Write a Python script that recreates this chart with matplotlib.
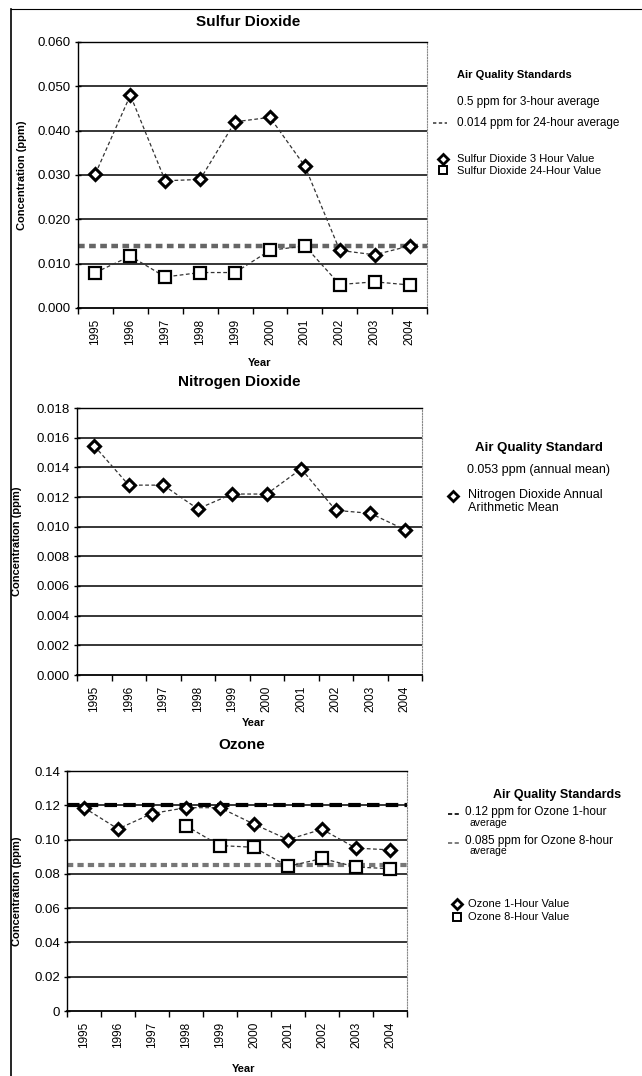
import matplotlib
matplotlib.use("Agg")
import matplotlib.pyplot as plt
import numpy as np
from matplotlib.lines import Line2D
from matplotlib.ticker import FixedLocator

plt.rcParams["font.family"] = ["Liberation Sans", "DejaVu Sans"]

W, H = 642, 1076

years = ["1995", "1996", "1997", "1998", "1999", "2000", "2001", "2002", "2003", "2004"]

so2_3hr = [0.0303, 0.048, 0.0287, 0.029, 0.042, 0.043, 0.032, 0.013, 0.012, 0.014]
so2_24hr = [0.008, 0.0117, 0.007, 0.008, 0.008, 0.013, 0.014, 0.0053, 0.0059, 0.0052]
so2_std_24hr = 0.014
so2_ticks = [0.000, 0.010, 0.020, 0.030, 0.040, 0.050, 0.060]

no2_annual = [0.01545, 0.0128, 0.0128, 0.0112, 0.0122, 0.0122, 0.0139, 0.0111, 0.0109, 0.0098]
no2_ticks = [0.000, 0.002, 0.004, 0.006, 0.008, 0.010, 0.012, 0.014, 0.016, 0.018]

o3_1hr = [0.1186, 0.1062, 0.1152, 0.1186, 0.1186, 0.109, 0.100, 0.106, 0.095, 0.094]
o3_8hr = [np.nan, np.nan, np.nan, 0.108, 0.0965, 0.0955, 0.0843, 0.089, 0.084, 0.083]
o3_std_1hr = 0.12
o3_std_8hr = 0.085
o3_ticks = [0, 0.02, 0.04, 0.06, 0.08, 0.10, 0.12, 0.14]
o3_ticklabels = ["0", "0.02", "0.04", "0.06", "0.08", "0.10", "0.12", "0.14"]


def fx(px):
    return px / W


def fy(py):
    return 1 - py / H


def make_axes(fig, left, top, right, bottom):
    return fig.add_axes([fx(left), fy(bottom), (right - left) / W, (bottom - top) / H])


def style_axes(ax, ticks, labels):
    x = np.arange(len(years))
    ax.set_xlim(-0.5, len(years) - 0.5)
    ax.set_ylim(ticks[0], ticks[-1])
    ax.set_yticks(ticks)
    ax.set_yticklabels(labels, fontsize=9.5)
    ax.set_xticks(x)
    ax.set_xticklabels(years, rotation=90, fontsize=8.5)
    ax.xaxis.set_minor_locator(FixedLocator(np.arange(-0.5, len(years), 1.0)))
    ax.tick_params(axis="x", which="major", length=0, pad=8)
    ax.tick_params(axis="x", which="minor", length=4, direction="out", width=1)
    ax.tick_params(axis="y", length=4, direction="inout", width=1, pad=3)
    for t in ticks[1:]:
        ax.axhline(t, color="black", lw=1.1, zorder=1)
    ax.spines["left"].set_linewidth(1.0)
    ax.spines["bottom"].set_linewidth(1.3)
    ax.spines["top"].set_linewidth(1.0)
    ax.spines["right"].set_color("#888888")
    ax.spines["right"].set_linestyle((0, (1, 1.5)))
    ax.spines["right"].set_linewidth(0.8)


def data_line(ax, vals, marker):
    x = np.arange(len(years))
    if marker == "D":
        ax.plot(x, vals, linestyle=(0, (3, 2)), color="#333333", lw=0.9,
                marker="D", markersize=6, markerfacecolor="white",
                markeredgecolor="black", markeredgewidth=2.2, zorder=4)
    else:
        ax.plot(x, vals, linestyle=(0, (3, 2)), color="#333333", lw=0.9,
                marker="s", markersize=8, markerfacecolor="white",
                markeredgecolor="black", markeredgewidth=1.6, zorder=4)


def legend_line(fig, x0, x1, y, color, lw, dashes):
    fig.add_artist(Line2D([fx(x0), fx(x1)], [fy(y), fy(y)], color=color, lw=lw,
                          linestyle=(0, dashes), transform=fig.transFigure))


def legend_marker(fig, x, y, marker):
    if marker == "D":
        fig.add_artist(Line2D([fx(x)], [fy(y)], marker="D", markersize=5,
                              markerfacecolor="white", markeredgecolor="black",
                              markeredgewidth=2, linestyle="none",
                              transform=fig.transFigure))
    else:
        fig.add_artist(Line2D([fx(x)], [fy(y)], marker="s", markersize=6,
                              markerfacecolor="white", markeredgecolor="black",
                              markeredgewidth=1.4, linestyle="none",
                              transform=fig.transFigure))


fig = plt.figure(figsize=(W / 100, H / 100), dpi=100)

# page frame
fig.add_artist(Line2D([fx(11), fx(11)], [fy(9), fy(1076)], color="black", lw=1.2,
                      transform=fig.transFigure))
fig.add_artist(Line2D([fx(11), fx(642)], [fy(9), fy(9)], color="black", lw=0.8,
                      transform=fig.transFigure))

# ---- Sulfur Dioxide ----
ax1 = make_axes(fig, 78, 42, 427, 308)
style_axes(ax1, so2_ticks, [f"{t:.3f}" for t in so2_ticks])
ax1.axhline(so2_std_24hr, color="#666666", lw=3.2, linestyle=(0, (1.5, 1)), zorder=2)
data_line(ax1, so2_3hr, "D")
data_line(ax1, so2_24hr, "s")
fig.text(fx(248), fy(22), "Sulfur Dioxide", ha="center", va="center", fontsize=11, fontweight="bold")
fig.text(fx(260), fy(363), "Year", ha="center", va="center", fontsize=8, fontweight="bold")
fig.text(fx(22), fy(175), "Concentration (ppm)", rotation=90, ha="center", va="center",
         fontsize=8, fontweight="bold")
fig.text(fx(457), fy(75), "Air Quality Standards", ha="left", va="center", fontsize=8, fontweight="bold")
fig.text(fx(457), fy(102), "0.5 ppm for 3-hour average", ha="left", va="center", fontsize=8.5)
legend_line(fig, 433, 447, 123, "#444444", 1.2, (2, 1.5))
fig.text(fx(457), fy(123), "0.014 ppm for 24-hour average", ha="left", va="center", fontsize=8.5)
legend_marker(fig, 443, 159, "D")
fig.text(fx(457), fy(159), "Sulfur Dioxide 3 Hour Value", ha="left", va="center", fontsize=8)
legend_marker(fig, 443, 170, "s")
fig.text(fx(457), fy(171), "Sulfur Dioxide 24-Hour Value", ha="left", va="center", fontsize=8)

# ---- Nitrogen Dioxide ----
ax2 = make_axes(fig, 77, 408, 422, 675)
style_axes(ax2, no2_ticks, [f"{t:.3f}" for t in no2_ticks])
data_line(ax2, no2_annual, "D")
fig.text(fx(239), fy(382), "Nitrogen Dioxide", ha="center", va="center", fontsize=11, fontweight="bold")
fig.text(fx(254), fy(723), "Year", ha="center", va="center", fontsize=8, fontweight="bold")
fig.text(fx(17), fy(541), "Concentration (ppm)", rotation=90, ha="center", va="center",
         fontsize=8, fontweight="bold")
fig.text(fx(475), fy(448), "Air Quality Standard", ha="left", va="center", fontsize=9.5, fontweight="bold")
fig.text(fx(467), fy(470), "0.053 ppm (annual mean)", ha="left", va="center", fontsize=9)
legend_marker(fig, 453, 496, "D")
fig.text(fx(468), fy(495), "Nitrogen Dioxide Annual", ha="left", va="center", fontsize=9)
fig.text(fx(468), fy(508), "Arithmetic Mean", ha="left", va="center", fontsize=9)

# ---- Ozone ----
ax3 = make_axes(fig, 67, 771, 407, 1011)
style_axes(ax3, o3_ticks, o3_ticklabels)
ax3.axhline(o3_std_1hr, color="black", lw=3, linestyle=(0, (3, 1.5)), zorder=2)
ax3.axhline(o3_std_8hr, color="#777777", lw=3, linestyle=(0, (1.5, 1)), zorder=2)
data_line(ax3, o3_1hr, "D")
data_line(ax3, o3_8hr, "s")
fig.text(fx(242), fy(745), "Ozone", ha="center", va="center", fontsize=11, fontweight="bold")
fig.text(fx(244), fy(1069), "Year", ha="center", va="center", fontsize=8, fontweight="bold")
fig.text(fx(17), fy(891), "Concentration (ppm)", rotation=90, ha="center", va="center",
         fontsize=8, fontweight="bold")
fig.text(fx(493), fy(795), "Air Quality Standards", ha="left", va="center", fontsize=9, fontweight="bold")
legend_line(fig, 448, 461, 814, "black", 1.2, (2.5, 1.5))
fig.text(fx(465), fy(812), "0.12 ppm for Ozone 1-hour", ha="left", va="center", fontsize=8.5)
fig.text(fx(470), fy(823), "average", ha="left", va="center", fontsize=7.5)
legend_line(fig, 448, 461, 843, "#666666", 1.2, (2.5, 1.5))
fig.text(fx(465), fy(841), "0.085 ppm for Ozone 8-hour", ha="left", va="center", fontsize=8.5)
fig.text(fx(470), fy(851), "average", ha="left", va="center", fontsize=7.5)
legend_marker(fig, 457, 904, "D")
fig.text(fx(468), fy(904), "Ozone 1-Hour Value", ha="left", va="center", fontsize=8)
legend_marker(fig, 457, 917, "s")
fig.text(fx(468), fy(917), "Ozone 8-Hour Value", ha="left", va="center", fontsize=8)

fig.savefig("out.png", dpi=100)
plt.close(fig)
